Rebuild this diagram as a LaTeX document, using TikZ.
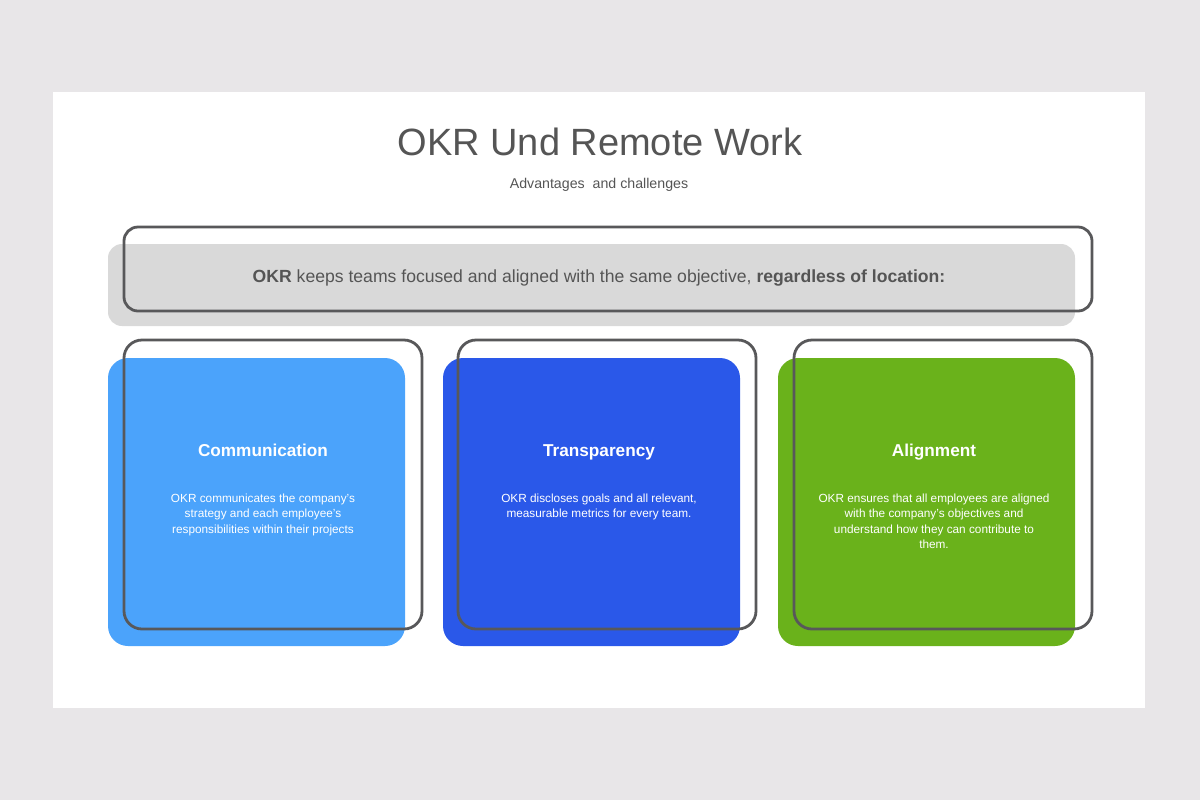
\documentclass[tikz,border=0pt]{standalone}
\usepackage{fontspec}
\setmainfont{Liberation Sans}
\definecolor{bgc}{HTML}{E8E6E8}
\definecolor{txtc}{HTML}{555555}
\definecolor{linec}{HTML}{58585A}
\definecolor{bannerc}{HTML}{D9D9D9}
\definecolor{c1}{HTML}{4BA3FB}
\definecolor{c2}{HTML}{2A58E9}
\definecolor{c3}{HTML}{6AB21B}
\tikzset{
  outlinebox/.style={draw=linec, line width=1.4pt, rounded corners=9pt},
  cardfill/.style={rounded corners=10pt},
  cardtitle/.style={text=white, anchor=base, font=\fontsize{8.6}{10}\selectfont\bfseries},
  cardbody/.style={text=white, align=center, anchor=north, font=\fontsize{5.9}{7.6}\selectfont},
}
\begin{document}
\begin{tikzpicture}[x=0.5pt, y=-0.5pt]
\fill[bgc] (0,0) rectangle (1200,800);
\useasboundingbox (0,0) rectangle (1200,800);
\fill[white] (53,92) rectangle (1145,708);
\node[text=txtc, anchor=base, font=\fontsize{19}{24}\selectfont] (title) at (600,155) {OKR Und Remote Work};
\node[text=txtc, anchor=base, font=\fontsize{7.1}{8}\selectfont] (sub) at (599,188) {Advantages\ \ and challenges};
% banner
\fill[bannerc, rounded corners=7pt] (108,244) rectangle (1075,326);
\draw[outlinebox, rounded corners=7pt] (124,227) rectangle (1092,311);
\node[text=txtc, anchor=base, font=\fontsize{8.8}{10}\selectfont] (banner) at (599,282) {\textbf{OKR} keeps teams focused and aligned with the same objective, \textbf{regardless of location:}};
% cards
\fill[c1, cardfill] (108,358) rectangle (405,646);
\draw[outlinebox] (124,340) rectangle (422,629);
\fill[c2, cardfill] (443,358) rectangle (740,646);
\draw[outlinebox] (458,340) rectangle (756,629);
\fill[c3, cardfill] (778,358) rectangle (1075,646);
\draw[outlinebox] (794,340) rectangle (1092,629);
\node[cardtitle] (t1) at (263,456) {Communication};
\node[cardtitle] (t2) at (599,456) {Transparency};
\node[cardtitle] (t3) at (934,456) {Alignment};
\node[cardbody] (b1) at (263,487) {OKR communicates the company's\\strategy and each employee's\\responsibilities within their projects};
\node[cardbody] (b2) at (599,487) {OKR discloses goals and all relevant,\\measurable metrics for every team.};
\node[cardbody] (b3) at (934,487) {OKR ensures that all employees are aligned\\with the company's objectives and\\understand how they can contribute to\\them.};
\end{tikzpicture}
\end{document}
